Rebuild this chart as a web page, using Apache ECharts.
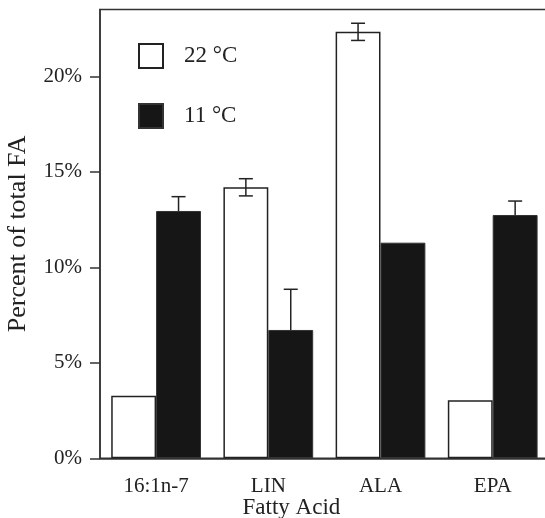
<!DOCTYPE html>
<html>
<head>
<meta charset="utf-8">
<script src="https://cdn.jsdelivr.net/npm/echarts@6/dist/echarts.min.js"></script>
<style>html,body{margin:0;padding:0;background:#fff;}#c{width:545px;height:518px;}</style>
</head>
<body>
<div id="c"></div>
<script>
const categories = ['16:1n-7', 'LIN', 'ALA', 'EPA'];
const warm22 = [3.28, 14.19, 22.33, 3.04];
const warm22Err = [0, 0.45, 0.45, 0];
const cold11 = [12.95, 6.72, 11.29, 12.74];
const cold11Err = [0.75, 2.13, 0, 0.73];
const yTicks = [0, 5, 10, 15, 20];

const FONT = 'Liberation Serif';
const chart = echarts.init(document.getElementById('c'));

function errRender(values, errs, side, upperOnly) {
  return function (params, api) {
    const i = api.value(0);
    const v = values[i], e = errs[i];
    if (!e) return null;
    const band = api.size([1, 0])[0];
    const c = api.coord([i, v]);
    const x = c[0] + side * band * 0.2;
    const top = api.coord([i, v + e])[1];
    const bot = upperOnly ? c[1] : api.coord([i, v - e])[1];
    const cap = 7;
    const st = { stroke: '#222', lineWidth: 1.5 };
    const children = [
      { type: 'line', shape: { x1: x, y1: top, x2: x, y2: bot }, style: st },
      { type: 'line', shape: { x1: x - cap, y1: top, x2: x + cap, y2: top }, style: st }
    ];
    if (!upperOnly) children.push({ type: 'line', shape: { x1: x - cap, y1: bot, x2: x + cap, y2: bot }, style: st });
    return { type: 'group', children: children };
  };
}

chart.setOption({
  animation: false,
  grid: { left: 100, top: 9.5, bottom: 59.7, right: -3.8, outerBoundsMode: 'none', containLabel: false, show: true, borderColor: '#333', borderWidth: 1.5, backgroundColor: 'transparent' },
  legend: {
    orient: 'vertical', left: 133, top: 38, itemWidth: 24, itemHeight: 24, itemGap: 34,
    icon: 'rect',
    textStyle: { fontFamily: FONT, fontSize: 23, color: '#222', padding: [0, 0, 0, 16] },
    data: ['22 °C', '11 °C']
  },
  xAxis: {
    type: 'category', data: categories,
    name: 'Fatty Acid', nameLocation: 'middle', nameGap: 38, nameMoveOverlap: false,
    nameTextStyle: { fontFamily: FONT, fontSize: 23, color: '#222', padding: [0, 66, 0, 0] },
    axisLine: { lineStyle: { color: '#333', width: 1.5 } },
    axisTick: { alignWithLabel: true, length: 10, lineStyle: { color: '#333', width: 1.5 } },
    axisLabel: { fontFamily: FONT, fontSize: 21, color: '#222', margin: 18 }
  },
  yAxis: {
    type: 'value', min: 0, max: 23.5, interval: 5,
    name: 'Percent of total FA', nameLocation: 'middle', nameGap: 69, nameMoveOverlap: false,
    nameTextStyle: { fontFamily: FONT, fontSize: 26, color: '#222' },
    axisLine: { show: true, lineStyle: { color: '#333', width: 1.5 } },
    axisTick: { show: true, length: 10, customValues: yTicks, lineStyle: { color: '#333', width: 1.5 } },
    splitLine: { show: false },
    axisLabel: {
      fontFamily: FONT, fontSize: 21, color: '#222', margin: 18, customValues: yTicks,
      formatter: function (v) { return v + '%'; }
    }
  },
  series: [
    {
      name: '22 °C', type: 'bar', data: warm22, barGap: '0%', barCategoryGap: '20%',
      itemStyle: { color: '#ffffff', borderColor: '#222', borderWidth: 1.5 }
    },
    {
      name: '11 °C', type: 'bar', data: cold11, barGap: '0%', barCategoryGap: '20%',
      itemStyle: { color: '#161616', borderColor: '#333', borderWidth: 1 }
    },
    {
      type: 'custom', data: categories.map((c, i) => [i]), z: 5,
      renderItem: errRender(warm22, warm22Err, -1, false), silent: true
    },
    {
      type: 'custom', data: categories.map((c, i) => [i]), z: 5,
      renderItem: errRender(cold11, cold11Err, 1, true), silent: true
    }
  ]
});
</script>
</body>
</html>
